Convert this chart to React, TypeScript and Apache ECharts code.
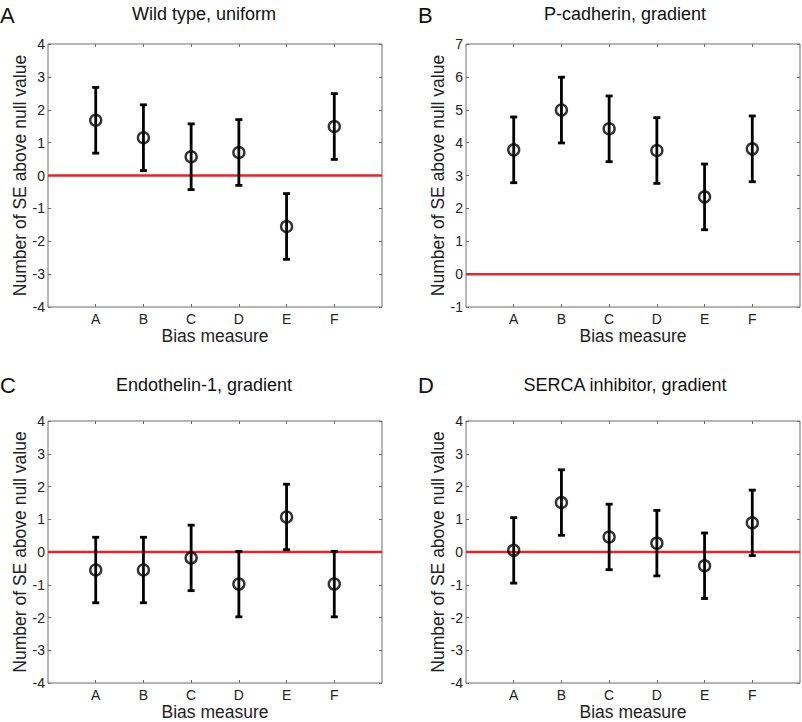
import React, { useEffect, useRef } from "react";
import * as echarts from "echarts";

// ---- data ----
const categories = ["A", "B", "C", "D", "E", "F"];
const wildTypeUniform = [1.68, 1.15, 0.57, 0.7, -1.55, 1.49];
const pCadherinGradient = [3.78, 4.99, 4.42, 3.76, 2.35, 3.81];
const endothelinGradient = [-0.55, -0.55, -0.18, -0.98, 1.07, -0.98];
const sercaGradient = [0.05, 1.51, 0.46, 0.27, -0.42, 0.89];
const errorHalfWidth = [1, 1, 1, 1, 1, 1]; // error bars span +/- 1 SE
const nullValue = 0;

const panelTitles = [
  "Wild type, uniform",
  "P-cadherin, gradient",
  "Endothelin-1, gradient",
  "SERCA inhibitor, gradient",
];
const panelLetters = ["A", "B", "C", "D"];
const yRangeStandard = [-4, 4];
const yRangeShifted = [-1, 7];
const xRange = [0, 7];

const FONT = "Liberation Sans";

export default function App() {
  const ref = useRef<HTMLDivElement>(null);

  useEffect(() => {
    document.body.style.margin = "0";
    const chart = echarts.init(ref.current!, undefined, { renderer: "svg" });

    const panels = [
      { values: wildTypeUniform, yr: yRangeStandard },
      { values: pCadherinGradient, yr: yRangeShifted },
      { values: endothelinGradient, yr: yRangeStandard },
      { values: sercaGradient, yr: yRangeStandard },
    ];

    const grids = [
      { left: 48, top: 44, width: 334, height: 263 },
      { left: 466, top: 44, width: 334, height: 263 },
      { left: 48, top: 421, width: 334, height: 262 },
      { left: 466, top: 421, width: 334, height: 262 },
    ].map((g) => ({
      ...g,
      show: true,
      borderColor: "#6e6e6e",
      borderWidth: 1,
      backgroundColor: "#fff",
    }));

    const tickStyle = { inside: true, length: 3, lineStyle: { color: "#6e6e6e", width: 1 } };
    const catPositions = categories.map((_, k) => k + 1);

    const xAxes: any[] = [];
    const yAxes: any[] = [];
    const series: any[] = [];

    panels.forEach((p, i) => {
      // bottom x axis
      xAxes.push({
        type: "value",
        gridIndex: i,
        min: xRange[0],
        max: xRange[1],
        interval: 1,
        position: "bottom",
        splitLine: { show: false },
        axisLine: { show: false, onZero: false },
        axisTick: { ...tickStyle, customValues: catPositions },
        axisLabel: {
          show: true,
          color: "#222",
          fontFamily: FONT,
          fontSize: 14,
          margin: 5,
          customValues: catPositions,
          formatter: (v: number) => categories[v - 1] ?? "",
        },
        name: "Bias measure",
        nameLocation: "middle",
        nameGap: 19,
        nameTextStyle: { color: "#222", fontFamily: FONT, fontSize: 17.5 },
      });
      // top x axis (ticks only)
      xAxes.push({
        type: "value",
        gridIndex: i,
        min: xRange[0],
        max: xRange[1],
        interval: 1,
        position: "top",
        splitLine: { show: false },
        axisLine: { show: false, onZero: false },
        axisTick: { ...tickStyle, customValues: catPositions },
        axisLabel: { show: false },
      });
      // left y axis
      yAxes.push({
        type: "value",
        gridIndex: i,
        min: p.yr[0],
        max: p.yr[1],
        interval: 1,
        position: "left",
        splitLine: { show: false },
        axisLine: { show: false, onZero: false },
        axisTick: tickStyle,
        axisLabel: {
          show: true,
          margin: 3,
          color: "#222",
          fontFamily: FONT,
          fontSize: 14,
        },
        name: "Number of SE above null value",
        nameLocation: "middle",
        nameGap: 19,
        nameTextStyle: { color: "#222", fontFamily: FONT, fontSize: 17.5 },
      });
      // right y axis (ticks only)
      yAxes.push({
        type: "value",
        gridIndex: i,
        min: p.yr[0],
        max: p.yr[1],
        interval: 1,
        position: "right",
        splitLine: { show: false },
        axisLine: { show: false, onZero: false },
        axisTick: tickStyle,
        axisLabel: { show: false },
      });

      const xi = i * 2;
      const yi = i * 2;

      // null-value reference line
      series.push({
        type: "line",
        xAxisIndex: xi,
        yAxisIndex: yi,
        data: [
          [xRange[0], nullValue],
          [xRange[1], nullValue],
        ],
        symbol: "none",
        lineStyle: { color: "#e3262b", width: 2.5 },
        z: 2,
        silent: true,
      });

      // error bars
      series.push({
        type: "custom",
        xAxisIndex: xi,
        yAxisIndex: yi,
        z: 3,
        silent: true,
        data: p.values.map((v, k) => [k + 1, v - errorHalfWidth[k], v + errorHalfWidth[k]]),
        renderItem: (params: any, api: any) => {
          const x = api.value(0);
          const lo = api.coord([x, api.value(1)]);
          const hi = api.coord([x, api.value(2)]);
          const hw = 3.5;
          const st = { stroke: "#000", lineWidth: 2.8, fill: "none" };
          return {
            type: "group",
            children: [
              { type: "line", shape: { x1: hi[0], y1: hi[1], x2: lo[0], y2: lo[1] }, style: st },
              { type: "line", shape: { x1: hi[0] - hw, y1: hi[1], x2: hi[0] + hw, y2: hi[1] }, style: st },
              { type: "line", shape: { x1: lo[0] - hw, y1: lo[1], x2: lo[0] + hw, y2: lo[1] }, style: st },
            ],
          };
        },
      });

      // means
      series.push({
        type: "scatter",
        xAxisIndex: xi,
        yAxisIndex: yi,
        z: 4,
        silent: true,
        symbol: "circle",
        symbolSize: 11,
        itemStyle: { color: "rgba(0,0,0,0)", borderColor: "#000", borderWidth: 2.4 },
        data: p.values.map((v, k) => [k + 1, v]),
      });
    });

    const titleCenters = [
      [204, 14],
      [625, 14],
      [204, 385],
      [625, 385],
    ];
    const letterPos = [
      [0, 15],
      [418, 15],
      [0, 385],
      [418, 385],
    ];

    const graphics: any[] = [];
    panelTitles.forEach((t, i) => {
      graphics.push({
        type: "text",
        x: titleCenters[i][0],
        y: titleCenters[i][1],
        style: {
          text: t,
          fill: "#111",
          fontFamily: FONT,
          fontSize: 18,
          textAlign: "center",
          textVerticalAlign: "middle",
        },
      });
      graphics.push({
        type: "text",
        x: letterPos[i][0],
        y: letterPos[i][1],
        style: {
          text: panelLetters[i],
          fill: "#111",
          fontFamily: FONT,
          fontSize: 22,
          textAlign: "left",
          textVerticalAlign: "middle",
        },
      });
    });

    chart.setOption({
      animation: false,
      backgroundColor: "#fff",
      grid: grids,
      xAxis: xAxes,
      yAxis: yAxes,
      series,
      graphic: graphics,
    });

    return () => chart.dispose();
  }, []);

  return <div ref={ref} style={{ width: 802, height: 722 }} />;
}
